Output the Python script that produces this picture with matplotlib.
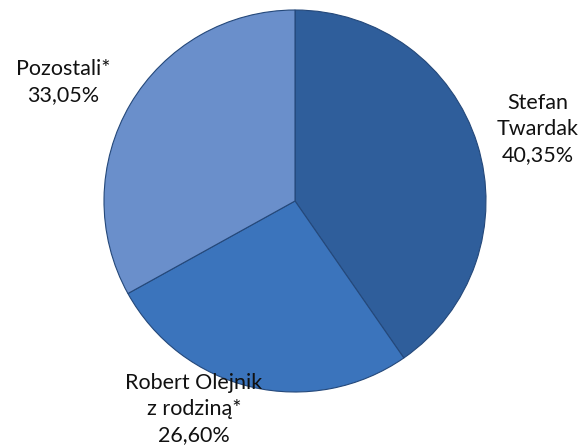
import matplotlib.pyplot as plt

# data
names = ['Stefan\nTwardak', 'Robert Olejnik\nz rodziną*', 'Pozostali*']
shares = [40.35, 26.60, 33.05]
colors = ['#2f5e9b', '#3b74bc', '#6a8fcb']
# label anchor points (pixels, from top-left)
label_xy = [(538, 129), (194, 409), (63, 82)]

plt.rcParams['font.family'] = ['Lato', 'DejaVu Sans']

fig = plt.figure(figsize=(5.82, 4.48), dpi=100)
ax = fig.add_axes([0, 0, 1, 1])

ax.pie(shares, colors=colors, startangle=90, counterclock=False,
       center=(295, 448 - 201), radius=191,
       wedgeprops=dict(edgecolor='#24487a', linewidth=0.8))

# pie() resets the limits, so set them afterwards
ax.set_xlim(0, 582)
ax.set_ylim(0, 448)
ax.set_aspect('equal')
ax.axis('off')

for name, val, (x, y) in zip(names, shares, label_xy):
    txt = name + '\n' + ('%.2f%%' % val).replace('.', ',')
    ax.text(x, 448 - y, txt, ha='center', va='center', multialignment='center',
            fontsize=15.5, linespacing=1.4, color='#111111')

fig.savefig('out.png', dpi=100)
